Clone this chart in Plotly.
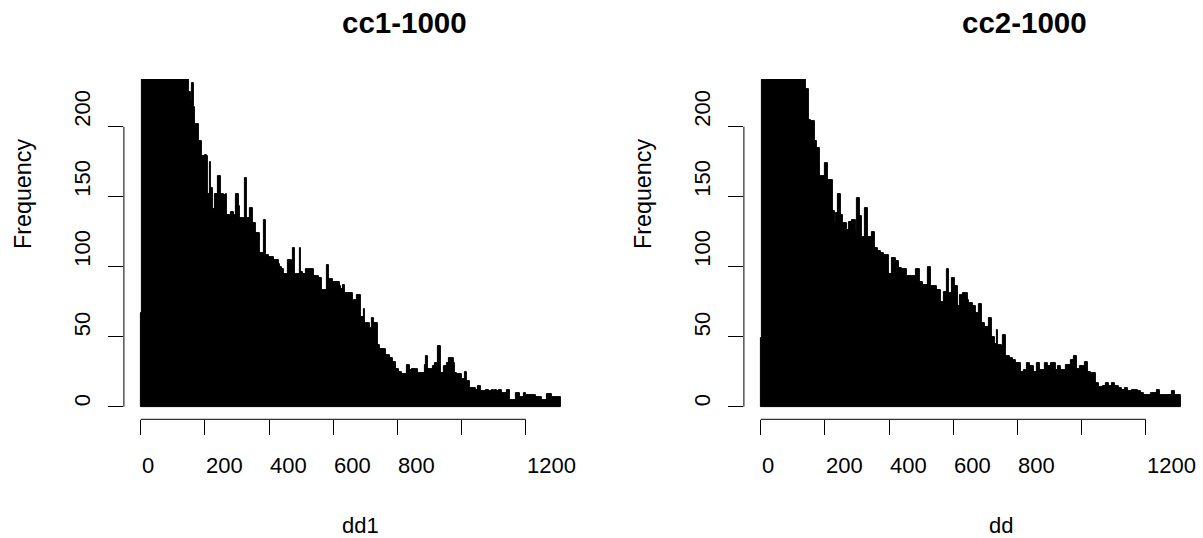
import plotly.graph_objects as go

# histogram bins: left edges, width 5
bin_width = 5
breaks = list(range(0, 1310, bin_width))

dd1_counts = [
    67, 250, 270, 285, 290, 300, 295, 305, 298, 300, 292, 296, 288, 290, 282, 285, 276, 278, 270, 268,
    262, 264, 256, 258, 250, 252, 246, 244, 240, 238, 225, 218, 231, 214, 202, 202, 190, 190, 179, 179,
    180, 179, 152, 175, 156, 141, 152, 152, 165, 165, 152, 152, 151, 152, 137, 137, 139, 139, 137, 152,
    152, 143, 135, 135, 135, 163, 135, 135, 142, 142, 131, 131, 124, 124, 110, 110, 110, 133, 108, 108,
    107, 107, 107, 105, 105, 105, 102, 100, 98, 95, 95, 95, 105, 105, 104, 113, 95, 95, 95, 113,
    96, 95, 95, 98, 98, 98, 98, 98, 93, 93, 93, 92, 92, 83, 83, 83, 101, 91, 91, 91,
    89, 89, 89, 89, 86, 84, 87, 81, 81, 81, 81, 81, 75, 76, 76, 80, 80, 64, 64, 70,
    60, 60, 60, 56, 63, 60, 60, 60, 44, 41, 41, 41, 41, 37, 37, 35, 35, 32, 32, 27,
    27, 25, 25, 23, 23, 23, 30, 30, 26, 27, 27, 27, 27, 24, 24, 24, 24, 30, 36, 27,
    27, 27, 29, 31, 31, 43, 43, 24, 24, 29, 29, 31, 35, 35, 35, 31, 24, 23, 23, 23,
    20, 20, 25, 18, 18, 13, 13, 13, 13, 12, 15, 15, 11, 11, 11, 12, 12, 11, 11, 12,
    11, 12, 11, 12, 12, 10, 10, 10, 12, 12, 5, 5, 5, 5, 10, 10, 7, 7, 7, 10,
    8, 8, 8, 8, 8, 8, 7, 7, 7, 7, 5, 5, 5, 9, 9, 9, 7, 7, 7, 7,
    7, 7,
]

dd_counts = [
    49, 245, 265, 280, 290, 300, 296, 305, 300, 298, 302, 295, 298, 290, 292, 286, 288, 280, 282, 276,
    270, 272, 264, 262, 256, 252, 248, 242, 227, 227, 205, 204, 204, 204, 190, 185, 185, 165, 165, 165,
    174, 174, 162, 162, 162, 140, 131, 138, 152, 152, 137, 131, 131, 131, 126, 132, 132, 133, 133, 125,
    149, 149, 136, 121, 121, 142, 142, 121, 121, 125, 125, 113, 113, 111, 111, 110, 110, 108, 108, 108,
    95, 95, 106, 106, 104, 104, 99, 99, 98, 98, 98, 93, 93, 93, 93, 93, 93, 98, 98, 89,
    89, 87, 87, 87, 100, 100, 86, 86, 86, 86, 83, 83, 75, 75, 82, 82, 98, 81, 81, 92,
    92, 86, 86, 72, 80, 80, 81, 81, 81, 76, 74, 74, 72, 72, 67, 67, 73, 73, 60, 60,
    57, 57, 63, 63, 50, 50, 45, 55, 44, 44, 43, 51, 51, 36, 36, 35, 35, 33, 33, 31,
    31, 31, 25, 25, 26, 26, 31, 31, 29, 29, 25, 25, 31, 31, 26, 26, 26, 31, 31, 29,
    29, 31, 31, 31, 26, 29, 29, 26, 26, 26, 30, 30, 30, 33, 33, 36, 36, 27, 27, 29,
    29, 29, 32, 32, 25, 25, 24, 24, 24, 17, 17, 14, 14, 15, 15, 17, 17, 15, 15, 17,
    17, 15, 15, 13, 13, 12, 12, 13, 13, 11, 11, 12, 12, 12, 12, 11, 11, 10, 10, 8,
    8, 8, 8, 10, 10, 10, 10, 12, 12, 8, 8, 8, 8, 8, 8, 8, 11, 11, 8, 8,
    8, 8,
]

titles = ["cc1-1000", "cc2-1000"]
xlabels = ["dd1", "dd"]
x_tickvals = [0, 200, 400, 600, 800, 1000, 1200]
x_ticktext = ["0", "200", "400", "600", "800", "", "1200"]
y_tickvals = [0, 50, 100, 150, 200]

W, H = 1203, 538
FONT = "Liberation Sans, Arial, Helvetica, sans-serif"

# pixel layout of the two panels (plot regions); right panel is shifted by 620px
panel_dx = [0, 620]
plot_x0, plot_x1 = 123.9, 578.0
top_px, bot_px = 79.1, 419.3
# text in the original starts at its anchor point (left aligned)
title_left = [341.7, 961.7]
xlab_left = [341.7, 988.8]
ylab_cx = 23
ytick_cx = 82.5

fig = go.Figure()
layout = dict(
    width=W, height=H, template="none",
    paper_bgcolor="white", plot_bgcolor="white",
    margin=dict(l=0, r=0, t=0, b=0),
    showlegend=False, bargap=0,
    annotations=[], shapes=[],
)


def ann(**kw):
    base = dict(showarrow=False, font=dict(family=FONT, size=22, color="black"))
    base.update(kw)
    layout["annotations"].append(base)


for i, counts in enumerate([dd1_counts, dd_counts]):
    xa = "x" if i == 0 else "x2"
    ya = "y" if i == 0 else "y2"
    dx = panel_dx[i]
    fig.add_trace(go.Bar(
        x=[b + bin_width / 2 for b in breaks], y=counts, width=bin_width,
        marker=dict(color="black", line=dict(color="black", width=1)),
        xaxis=xa, yaxis=ya, hoverinfo="x+y",
    ))
    key = "" if i == 0 else "2"
    layout["xaxis" + key] = dict(
        domain=[(plot_x0 + dx) / W, (plot_x1 + dx) / W], range=[-52.4, 1362.4], anchor=ya,
        tickmode="array", tickvals=x_tickvals,
        ticks="outside", ticklen=15, tickwidth=1, tickcolor="black",
        showticklabels=False, showline=False, showgrid=False, zeroline=False,
    )
    layout["yaxis" + key] = dict(
        domain=[1 - bot_px / H, 1 - top_px / H], range=[-9, 234], anchor=xa,
        tickmode="array", tickvals=y_tickvals,
        ticks="outside", ticklen=15, tickwidth=1, tickcolor="black",
        showticklabels=False, showline=False, showgrid=False, zeroline=False,
    )
    # axis lines drawn only between the first and last ticks, as in base R
    layout["shapes"].append(dict(type="line", xref=xa, yref="paper",
                                 x0=0, x1=1200, y0=1 - bot_px / H, y1=1 - bot_px / H,
                                 line=dict(color="black", width=1)))
    layout["shapes"].append(dict(type="line", xref="paper", yref=ya,
                                 x0=(plot_x0 + dx) / W, x1=(plot_x0 + dx) / W, y0=0, y1=200,
                                 line=dict(color="black", width=1)))
    # tick labels: start at the tick, as in the original rendering
    for v, t in zip(x_tickvals, x_ticktext):
        if t:
            ann(text=t, xref=xa, yref="paper", x=v, y=1 - 465 / H,
                xanchor="left", yanchor="middle", xshift=-1)
    for v in y_tickvals:
        ann(text=str(v), xref="paper", yref=ya, x=(ytick_cx + dx) / W, y=v,
            textangle=-90, xanchor="center", yanchor="bottom", yshift=-2)
    ann(text="<b>" + titles[i] + "</b>", xref="paper", yref="paper",
        x=title_left[i] / W, y=1 - 23 / H, xanchor="left", yanchor="middle",
        xshift=-2, font=dict(family=FONT, size=29.5, color="black"))
    ann(text=xlabels[i], xref="paper", yref="paper",
        x=xlab_left[i] / W, y=1 - 525 / H, xanchor="left", yanchor="middle",
        xshift=-2)
    ann(text="Frequency", xref="paper", yref="paper",
        x=(ylab_cx + dx) / W, y=1 - 249 / H, textangle=-90,
        xanchor="center", yanchor="bottom", yshift=-2,
        font=dict(family=FONT, size=23.3, color="black"))

fig.update_layout(**layout)
fig.write_html("out.html", config={"displayModeBar": False},
               post_script="document.body.style.margin='0';")
